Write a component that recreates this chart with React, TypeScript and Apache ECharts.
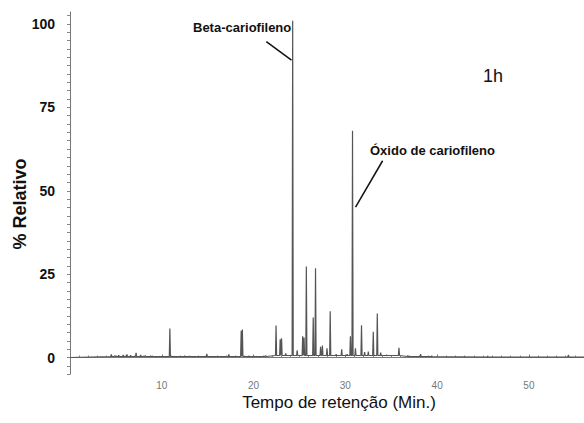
import React, { useEffect, useRef } from "react";
import * as echarts from "echarts";

// Retention times (min) and relative intensities (%) of the chromatogram peaks
const peakTimes = [
  4.5, 4.9, 5.3, 5.8, 6.2, 6.6, 7.2, 7.7, 8.2, 8.8, 9.5, 10.88, 12.5, 13.3, 14.9, 17.3,
  18.65, 18.78, 19.5, 20.5, 21.3, 22.45, 22.9, 23.05, 23.5, 24.26, 24.75, 25.35, 25.5,
  25.75, 26.5, 26.75, 27.3, 27.5, 28.0, 28.35, 29.0, 29.6, 30.2, 30.55, 30.78, 31.1,
  31.76, 32.1, 32.5, 33.04, 33.48, 33.85, 34.5, 35.84, 36.8, 38.2, 39.4, 45.5, 54.3,
];
const peakHeights = [
  0.9, 0.6, 0.7, 0.8, 0.9, 0.7, 1.4, 0.8, 0.6, 0.5, 0.4, 8.7, 0.5, 0.4, 1.1, 0.9,
  8.0, 8.4, 0.5, 0.4, 0.6, 9.6, 5.5, 5.8, 1.2, 101, 2.2, 6.4, 6.0,
  27.3, 12.0, 26.8, 3.2, 3.6, 2.8, 13.9, 1.0, 2.5, 1.0, 6.4, 68, 2.8,
  9.7, 1.6, 1.8, 7.7, 13.2, 1.5, 0.8, 2.9, 0.6, 1.0, 0.5, 0.5, 0.8,
];

// Baseline level (start time, level) — step changes of the detector drift
const baselineStarts = [0, 4.3, 22, 36, 40];
const baselineLevels = [0, 0.3, 0.6, 0.3, 0.1];

const runEnd = 56;

// Annotation leader lines: [time, intensity] start and end points
const betaLeader = [[21.39, 94.7], [24.13, 89.2]];
const oxideLeader = [[34.06, 59.0], [31.11, 45.1]];

const yTickLabels = [0, 25, 50, 75, 100];
const xTickLabels = [10, 20, 30, 40, 50];

function baselineAt(t: number): number {
  let level = baselineLevels[0];
  for (let i = 0; i < baselineStarts.length; i++) {
    if (t >= baselineStarts[i]) level = baselineLevels[i];
  }
  return level;
}

function buildTrace(): number[][] {
  const pts: number[][] = [[0, 0]];
  const half = 0.06;
  peakTimes.forEach((t, i) => {
    const b = baselineAt(t);
    pts.push([t - half, b], [t, peakHeights[i]], [t + half, b]);
  });
  pts.push([runEnd, baselineAt(runEnd)]);
  return pts;
}

const narrow = "'Liberation Sans Narrow', 'Liberation Sans', Arial, sans-serif";
const sans = "'Liberation Sans', Arial, sans-serif";

export default function App() {
  const ref = useRef<HTMLDivElement>(null);

  useEffect(() => {
    if (!ref.current) return;
    const chart = echarts.init(ref.current, null, { renderer: "svg" });
    chart.setOption({
      animation: false,
      backgroundColor: "#ffffff",
      grid: { left: 70, right: 0, top: 12, bottom: 48.8, outerBoundsMode: "none", containLabel: false },
      xAxis: {
        type: "value",
        min: 0,
        max: runEnd,
        interval: 10,
        axisLine: { lineStyle: { color: "#777", width: 1 } },
        axisTick: { show: true, inside: true, length: 3, lineStyle: { color: "#777" } },
        minorTick: { show: true, splitNumber: 10, length: 2, lineStyle: { color: "#888" } },
        axisLabel: {
          color: "#777",
          fontSize: 10,
          fontFamily: sans,
          margin: 6,
          showMaxLabel: false,
          formatter: (v: number) => (xTickLabels.indexOf(v) >= 0 ? String(v) : ""),
        },
        splitLine: { show: false },
      },
      yAxis: {
        type: "value",
        min: -5,
        max: 103.6,
        interval: 2.5,
        axisLine: { show: true, lineStyle: { color: "#777", width: 1 } },
        axisTick: { show: true, length: 3, lineStyle: { color: "#888" } },
        axisLabel: {
          color: "#111",
          fontSize: 14,
          fontWeight: "bold",
          fontFamily: narrow,
          margin: 15,
          showMinLabel: true,
          showMaxLabel: false,
          formatter: (v: number) => (yTickLabels.indexOf(v) >= 0 ? String(v) : ""),
        },
        splitLine: { show: false },
      },
      series: [
        {
          type: "line",
          data: buildTrace(),
          showSymbol: false,
          lineStyle: { color: "#555", width: 1.2 },
        },
        {
          type: "line",
          data: betaLeader,
          showSymbol: false,
          lineStyle: { color: "#111", width: 1.5 },
        },
        {
          type: "line",
          data: oxideLeader,
          showSymbol: false,
          lineStyle: { color: "#111", width: 1.5 },
        },
      ],
      graphic: [
        {
          type: "text",
          x: 193,
          y: 27,
          style: {
            text: "Beta-cariofileno",
            font: `bold 13px ${narrow}`,
            fill: "#111",
            verticalAlign: "middle",
          },
        },
        {
          type: "text",
          x: 370,
          y: 150,
          style: {
            text: "Óxido de cariofileno",
            font: `bold 13px ${narrow}`,
            fill: "#111",
            verticalAlign: "middle",
          },
        },
        {
          type: "text",
          x: 483,
          y: 76,
          style: {
            text: "1h",
            font: `18px ${sans}`,
            fill: "#111",
            verticalAlign: "middle",
          },
        },
        {
          type: "text",
          x: 20,
          y: 204,
          rotation: Math.PI / 2,
          style: {
            text: "% Relativo",
            font: `bold 18px ${sans}`,
            fill: "#111",
            align: "center",
            verticalAlign: "middle",
          },
        },
        {
          type: "text",
          x: 339,
          y: 402,
          style: {
            text: "Tempo de retenção (Min.)",
            font: `17px ${sans}`,
            fill: "#111",
            align: "center",
            verticalAlign: "middle",
          },
        },
      ],
    });
    return () => chart.dispose();
  }, []);

  return <div ref={ref} style={{ width: 584, height: 423, position: "absolute", left: 0, top: 0 }} />;
}
